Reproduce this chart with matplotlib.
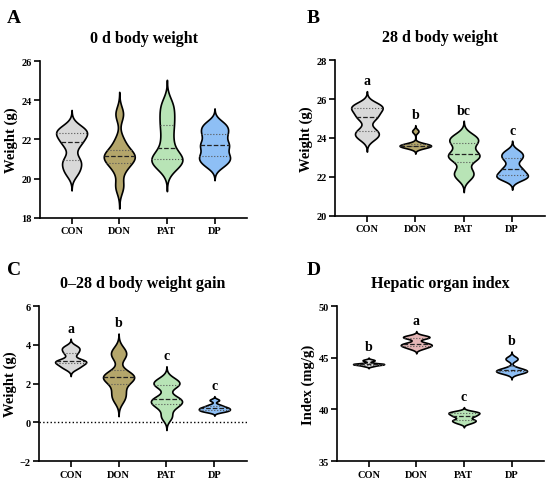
import numpy as np
import matplotlib.pyplot as plt

plt.rcParams['font.family'] = ['Liberation Serif', 'DejaVu Serif']
plt.rcParams['font.weight'] = 'bold'
plt.rcParams['axes.labelweight'] = 'bold'

groups = ['CON', 'DON', 'PAT', 'DP']

# individual animal values
bw0_con = [20.3, 20.7, 21.0, 21.7, 22.0, 22.3, 22.4, 22.6]
bw0_don = [19.6, 20.5, 20.9, 21.1, 21.2, 21.3, 21.9, 23.3]
bw0_pat = [20.6, 20.9, 21.0, 21.2, 21.9, 22.6, 23.2, 23.8]
bw0_dp = [20.7, 21.0, 21.2, 21.6, 21.8, 22.2, 22.5, 22.8]

bw28_con = [24.0, 24.2, 24.4, 25.0, 25.2, 25.5, 25.6, 25.7]
bw28_don = [23.5, 23.55, 23.6, 23.6, 23.65, 23.7, 24.35]
bw28_pat = [22.0, 22.3, 22.9, 23.1, 23.2, 23.7, 23.9, 24.1]
bw28_dp = [21.9, 22.0, 22.1, 22.3, 22.5, 22.9, 23.1, 23.3]

gain_con = [2.8, 2.95, 3.1, 3.15, 3.2, 3.55, 3.75, 3.9]
gain_don = [1.2, 1.6, 2.1, 2.3, 2.4, 2.5, 3.4, 3.7]
gain_pat = [0.3, 0.8, 1.0, 1.15, 1.25, 1.9, 2.0, 2.2]
gain_dp = [0.55, 0.6, 0.65, 0.7, 0.75, 0.8, 0.9, 1.15]

liver_con = [44.2, 44.3, 44.35, 44.4, 44.4, 44.45, 44.7, 44.8]
liver_don = [45.9, 46.1, 46.2, 46.3, 46.45, 46.9, 47.0, 47.1]
liver_pat = [38.7, 38.9, 39.0, 39.3, 39.45, 39.6, 39.7, 39.8]
liver_dp = [43.5, 43.6, 43.7, 43.75, 43.85, 44.0, 44.8, 45.0]

letters_b = ['a', 'b', 'bc', 'c']
letters_c = ['a', 'b', 'c', 'c']
letters_d = ['b', 'a', 'c', 'b']

colors = ['#d9d9d9', '#b4a66b', '#b8e4b6', '#8ebff5']
colors_d = ['#d9d9d9', '#e4b6b6', '#b8e4b6', '#8ebff5']

BW_FACTOR = 0.35
WIDTH = 0.65


def kde_stats(data):
    d = np.asarray(data, float)
    bw = BW_FACTOR * d.std(ddof=1)
    coords = np.linspace(d.min() - 3 * bw, d.max() + 3 * bw, 300)
    vals = np.exp(-0.5 * ((coords[:, None] - d[None, :]) / bw) ** 2).sum(axis=1)
    return dict(coords=coords, vals=vals, mean=d.mean(), median=np.median(d),
                min=coords.min(), max=coords.max())


def violin_panel(ax, datasets, cols, title, ylabel, ylim, yticks, letters=None):
    pos = np.arange(len(datasets))
    stats = [kde_stats(d) for d in datasets]
    parts = ax.violin(stats, positions=pos, widths=WIDTH, showmeans=False,
                      showextrema=False, showmedians=False)
    for body, c in zip(parts['bodies'], cols):
        body.set_facecolor(c)
        body.set_edgecolor('black')
        body.set_linewidth(1.2)
        body.set_alpha(1)
    for p, st, d in zip(pos, stats, datasets):
        scale = 0.5 * WIDTH / st['vals'].max()
        q1, med, q3 = np.percentile(d, [25, 50, 75])
        for q, ls, lw, c in [(q1, ':', 0.8, '#555555'), (q3, ':', 0.8, '#555555'),
                             (med, '--', 0.9, '#222222')]:
            hw = np.interp(q, st['coords'], st['vals']) * scale
            ax.plot([p - hw, p + hw], [q, q], ls=ls, lw=lw, color=c)
    if letters:
        for p, st, t in zip(pos, stats, letters):
            ax.annotate(t, (p, st['max']), xytext=(0, 3), textcoords='offset points',
                        ha='center', va='bottom', fontsize=10, fontweight='bold')
    ax.set_xlim(-0.66, 3.68)
    ax.set_ylim(*ylim)
    ax.set_yticks(yticks)
    ax.set_xticks(pos)
    ax.set_xticklabels(groups)
    ax.set_title(title, fontsize=11.5, fontweight='bold', pad=14)
    ax.set_ylabel(ylabel, fontsize=10.5)
    ax.yaxis.set_label_coords(-0.105, 0.5)
    ax.spines['right'].set_visible(False)
    ax.spines['top'].set_visible(False)
    for s in ['left', 'bottom']:
        ax.spines[s].set_linewidth(1.2)
    ax.tick_params(width=1.2, length=4, labelsize=7.5, pad=2)


fig = plt.figure(figsize=(5.5, 4.85), dpi=100)
ax_a = fig.add_axes([0.073, 0.549, 0.376, 0.323])
ax_b = fig.add_axes([0.609, 0.553, 0.382, 0.321])
ax_c = fig.add_axes([0.071, 0.047, 0.378, 0.320])
ax_d = fig.add_axes([0.613, 0.047, 0.376, 0.320])

violin_panel(ax_a, [bw0_con, bw0_don, bw0_pat, bw0_dp], colors,
             '0 d body weight', 'Weight (g)', (18, 26), [18, 20, 22, 24, 26])
violin_panel(ax_b, [bw28_con, bw28_don, bw28_pat, bw28_dp], colors,
             '28 d body weight', 'Weight (g)', (20, 28), [20, 22, 24, 26, 28], letters_b)
violin_panel(ax_c, [gain_con, gain_don, gain_pat, gain_dp], colors,
             '0\u201328 d body weight gain', 'Weight (g)', (-2, 6), [-2, 0, 2, 4, 6], letters_c)
ax_c.axhline(0, color='black', ls=':', lw=1.0, zorder=0)
violin_panel(ax_d, [liver_con, liver_don, liver_pat, liver_dp], colors_d,
             'Hepatic organ index', 'Index (mg/g)', (35, 50), [35, 40, 45, 50], letters_d)

for lab, x, y in [('A', 0.012, 0.98), ('B', 0.557, 0.98), ('C', 0.012, 0.46), ('D', 0.557, 0.46)]:
    fig.text(x, y, lab, fontsize=14, fontweight='bold', va='top', ha='left')

fig.savefig('out.png', dpi=100)
